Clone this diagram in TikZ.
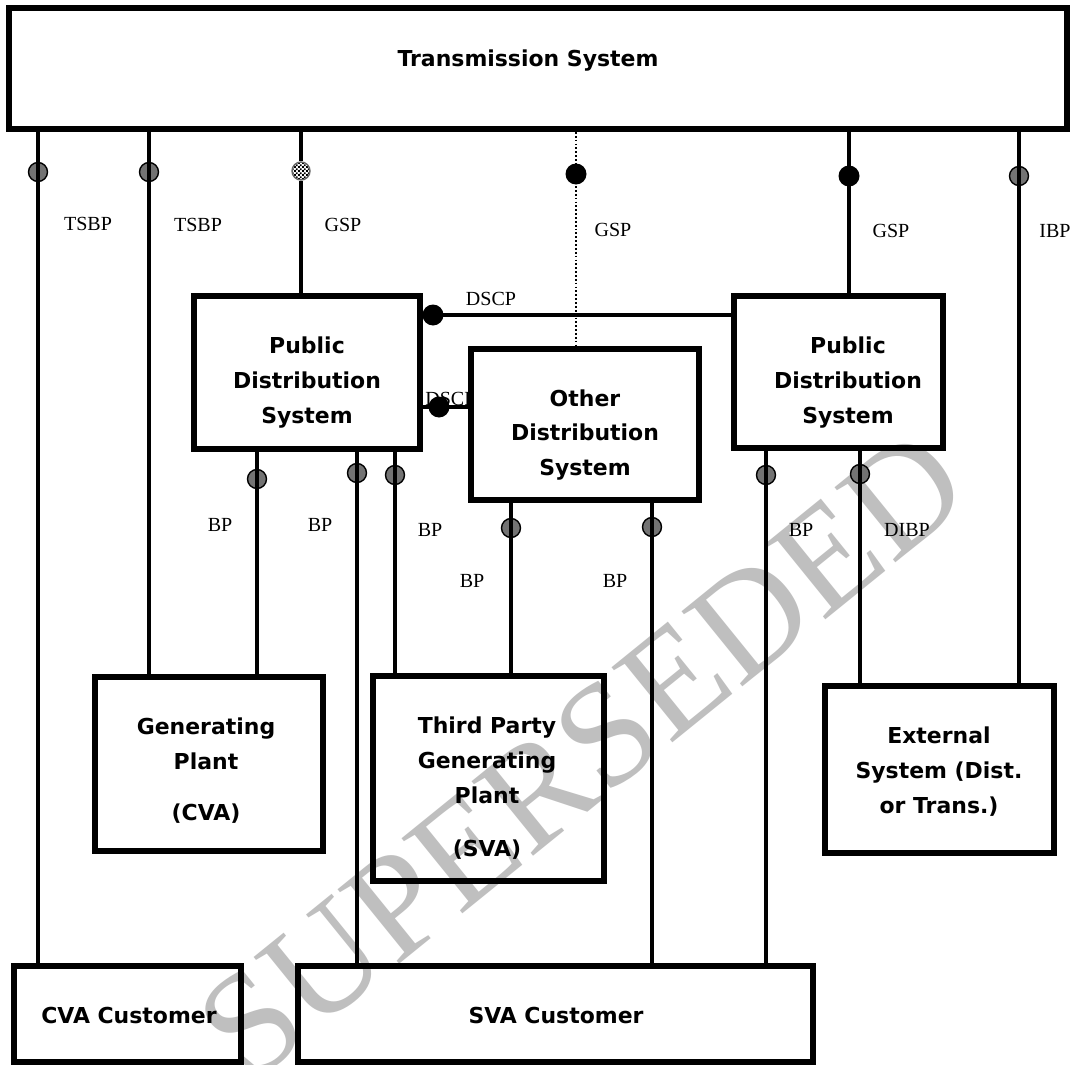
\documentclass[tikz,border=0pt]{standalone}
\usepackage{fontspec}
\setmainfont{Liberation Serif}
\newfontfamily\boxfont{DejaVu Sans}
\usetikzlibrary{patterns}
\pgfdeclarepatternformonly{finechecks}{\pgfpointorigin}{\pgfqpoint{2.4pt}{2.4pt}}{\pgfqpoint{2.4pt}{2.4pt}}{%
  \pgfpathrectangle{\pgfpointorigin}{\pgfqpoint{1.2pt}{1.2pt}}%
  \pgfpathrectangle{\pgfqpoint{1.2pt}{1.2pt}}{\pgfqpoint{1.2pt}{1.2pt}}%
  \pgfusepath{fill}}
\begin{document}
\begin{tikzpicture}[x=0.02cm,y=-0.02cm]
	\tikzstyle{box}=[draw=black,line width=3.4pt,inner sep=0pt]
	\tikzstyle{boxtext}=[font=\boxfont\bfseries\fontsize{12.5}{19.9}\selectfont,align=center,inner sep=0pt]
	\tikzstyle{lbl}=[font=\fontsize{11.4}{13}\selectfont,anchor=base,inner sep=0pt]
	\tikzstyle{link}=[line width=2.3pt]
	\tikzstyle{pt}=[circle,draw=black,line width=0.8pt,fill=black!55,minimum size=0.38cm,inner sep=0pt]
	\tikzstyle{dot}=[circle,fill=black,minimum size=0.42cm,inner sep=0pt]
	\tikzstyle{chk}=[circle,draw=black!60,line width=0.8pt,preaction={fill=white},pattern=finechecks,minimum size=0.36cm,inner sep=0pt]
	\tikzstyle{stamp}=[font=\fontsize{84}{84}\selectfont,text=black!25,rotate=39,inner sep=0pt]

	\path[fill=white] (0,0) rectangle (1076,1065);
	\useasboundingbox (0,0) rectangle (1076,1065);

	\node[stamp] (stamp) at (582,755) {SUPERSEDED};

	% metering points
	\node[pt]  (m1)  at (38,172)  {};
	\node[pt]  (m2)  at (149,172) {};
	\node[chk] (m3)  at (301,171) {};
	\node[dot] (m4)  at (576,174) {};
	\node[dot] (m5)  at (849,176) {};
	\node[pt]  (m6)  at (1019,176) {};
	\node[dot] (m7)  at (433,315) {};
	\node[dot] (m8)  at (439,407) {};
	\node[pt]  (m9)  at (257,479) {};
	\node[pt]  (m10) at (357,473) {};
	\node[pt]  (m11) at (395,475) {};
	\node[pt]  (m12) at (511,528) {};
	\node[pt]  (m13) at (652,527) {};
	\node[pt]  (m14) at (766,475) {};
	\node[pt]  (m15) at (860,474) {};

	% labels
	\node[lbl] (tsbpa) at (88,230)  {TSBP};
	\node[lbl] (tsbpb) at (198,231) {TSBP};
	\node[lbl] (gspa)  at (343,231) {GSP};
	\node[lbl] (gspb)  at (613,236) {GSP};
	\node[lbl] (gspc)  at (891,237) {GSP};
	\node[lbl] (ibp)   at (1055,237) {IBP};
	\node[lbl] (dscpa) at (491,305) {DSCP};
	\node[lbl,anchor=base west] (dscpb) at (425,405) {DSCP};
	\node[lbl] (bpa)   at (220,531) {BP};
	\node[lbl] (bpb)   at (320,531) {BP};
	\node[lbl] (bpc)   at (430,536) {BP};
	\node[lbl] (bpd)   at (472,587) {BP};
	\node[lbl] (bpe)   at (615,587) {BP};
	\node[lbl] (bpf)   at (801,536) {BP};
	\node[lbl] (dibp)  at (907,536) {DIBP};

	% systems
	\node[box,minimum width=21.16cm,minimum height=2.42cm] (ts)   at (538,68.5)  {};
	\node[box,minimum width=4.52cm,minimum height=3.06cm]  (pdsl) at (307,372.5) {};
	\node[box,fill=white,minimum width=4.56cm,minimum height=3.02cm] (ods) at (585,424.5) {};
	\node[box,minimum width=4.18cm,minimum height=3.04cm]  (pdsr) at (838.5,372) {};
	\node[box,minimum width=4.56cm,minimum height=3.48cm]  (gen)  at (209,764)   {};
	\node[box,minimum width=4.62cm,minimum height=4.10cm]  (tpgp) at (488.5,778.5) {};
	\node[box,minimum width=4.58cm,minimum height=3.34cm]  (ext)  at (939.5,769.5) {};
	\node[box,minimum width=4.54cm,minimum height=1.92cm]  (cva)  at (127.5,1014) {};
	\node[box,minimum width=10.30cm,minimum height=1.92cm] (sva)  at (555.5,1014) {};

	\node[boxtext] (tstext)   at (528,60.5)  {Transmission System};
	\node[boxtext] (pdsltext) at (307,382.5) {Public\\Distribution\\System};
	\node[boxtext] (odstext)  at (585,435)   {Other\\Distribution\\System};
	\node[boxtext] (pdsrtext) at (848,382.5) {Public\\Distribution\\System};
	\node[boxtext] (gentext)  at (206,771)   {Generating\\Plant\\[0.32cm](CVA)};
	\node[boxtext] (tpgptext) at (487,788.5) {Third Party\\Generating\\Plant\\[0.36cm](SVA)};
	\node[boxtext] (exttext)  at (939,772)   {External\\System (Dist.\\or Trans.)};
	\node[boxtext] (cvatext)  at (129,1015)  {CVA Customer};
	\node[boxtext] (svatext)  at (556,1015)  {SVA Customer};

	% connections
	\draw[link] (ts.south -| m1) -- (cva.north -| m1);
	\draw[link] (ts.south -| m2) -- (gen.north -| m2);
	\draw[link] (ts.south -| m3) -- (m3.north);
	\draw[link] (m3.south) -- (pdsl.north -| m3);
	\draw[line width=1pt,dash pattern=on 1pt off 1.2pt] (ts.south -| m4) -- (ods.north -| m4);
	\draw[link] (ts.south -| m5) -- (pdsr.north -| m5);
	\draw[link] (ts.south -| m6) -- (ext.north -| m6);
	\draw[link] (pdsl.east |- m7) -- (pdsr.west |- m7);
	\draw[link] (pdsl.east |- m8) -- (ods.west |- m8);
	\draw[link] (pdsl.south -| m9) -- (gen.north -| m9);
	\draw[link] (pdsl.south -| m10) -- (sva.north -| m10);
	\draw[link] (pdsl.south -| m11) -- (tpgp.north -| m11);
	\draw[link] (ods.south -| m12) -- (tpgp.north -| m12);
	\draw[link] (ods.south -| m13) -- (sva.north -| m13);
	\draw[link] (pdsr.south -| m14) -- (sva.north -| m14);
	\draw[link] (pdsr.south -| m15) -- (ext.north -| m15);
\end{tikzpicture}
\end{document}
